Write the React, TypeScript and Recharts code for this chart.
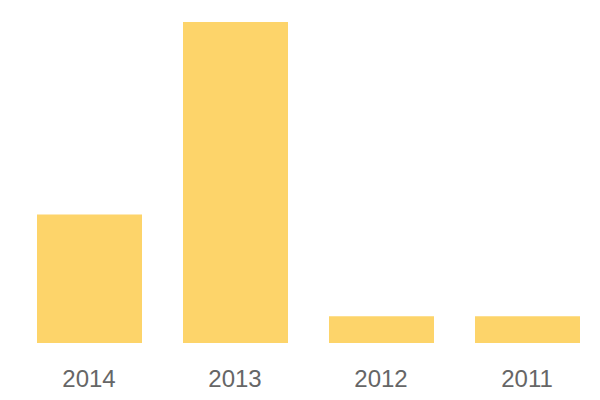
import { BarChart, Bar, XAxis, YAxis } from 'recharts';

const years = ['2014', '2013', '2012', '2011'];
const counts = [24, 60, 5, 5];

const data = years.map((year, i) => ({ year, count: counts[i] }));

export default function App() {
  return (
    <div style={{ position: 'absolute', left: 0, top: 0, background: '#fff' }}>
      <BarChart
        width={600}
        height={400}
        data={data}
        margin={{ top: 22, right: 0, left: 16, bottom: 0 }}
      >
        <XAxis
          dataKey="year"
          axisLine={false}
          tickLine={false}
          tickSize={0}
          tickMargin={27}
          height={57}
          tick={{ fill: '#666', fontSize: 24, fontFamily: 'Liberation Sans, Arial, sans-serif' }}
        />
        <YAxis hide domain={[0, 60]} />
        <Bar dataKey="count" fill="#fdd46a" barSize={105} isAnimationActive={false} />
      </BarChart>
    </div>
  );
}
